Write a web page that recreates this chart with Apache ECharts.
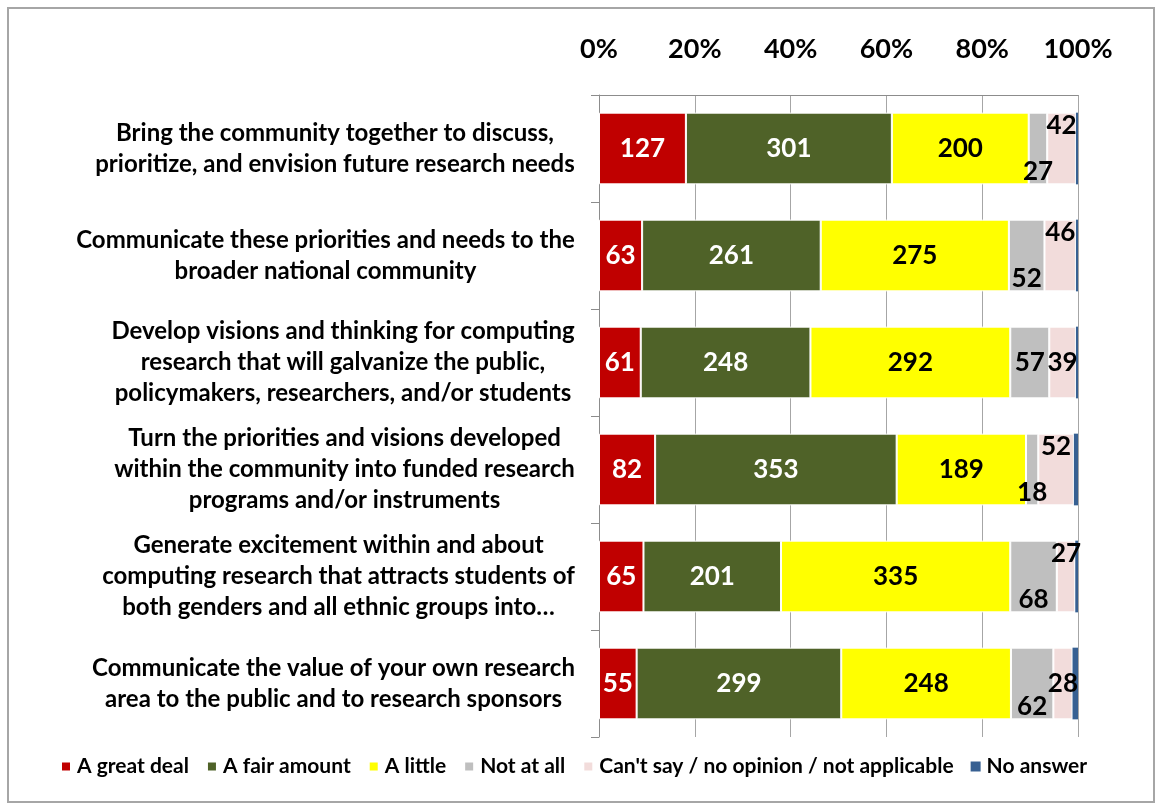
<!DOCTYPE html>
<html>
<head>
<meta charset="utf-8">
<script src="https://cdn.jsdelivr.net/npm/echarts@6/dist/echarts.min.js"></script>
<style>
  html, body { margin: 0; padding: 0; background: #fff; }
  #chart { width: 1158px; height: 806px; }
</style>
</head>
<body>
<div id="chart"></div>
<script>
  const categories = [
    'Bring the community together to discuss,\nprioritize, and envision future research needs',
    'Communicate these priorities and needs to the\nbroader national community',
    'Develop visions and thinking for computing\nresearch that will galvanize the public,\npolicymakers, researchers, and/or students',
    'Turn the priorities and visions developed\nwithin the community into funded research\nprograms and/or instruments',
    'Generate excitement within and about\ncomputing research that attracts students of\nboth genders and all ethnic groups into…',
    'Communicate the value of your own research\narea to the public and to research sponsors'
  ]
  const seriesNames = ['A great deal', 'A fair amount', 'A little', 'Not at all', "Can't say / no opinion / not applicable", 'No answer']
  const greatDeal = [127, 63, 61, 82, 65, 55]
  const fairAmount = [301, 261, 248, 353, 201, 299]
  const aLittle = [200, 275, 292, 189, 335, 248]
  const notAtAll = [27, 52, 57, 18, 68, 62]
  const cantSay = [42, 46, 39, 52, 27, 28]
  const noAnswer = [3, 3, 3, 6, 4, 8]

  const colors = ['#C00000', '#4F6228', '#FFFF00', '#BFBFBF', '#F2DCDB', '#376092']
  const labelColors = ['#fff', '#fff', '#000', '#000', '#000', '#000']
  // where the small labels sit in each bar (Excel moved them by hand)
  const grayPos = ['insideBottom', 'insideBottom', 'inside', 'insideBottom', 'insideBottom', 'insideBottom']
  const pinkPos = ['insideTop', 'insideTop', 'inside', 'insideTop', 'insideTop', 'inside']

  const allValues = [greatDeal, fairAmount, aLittle, notAtAll, cantSay, noAnswer]
  const totals = categories.map((c, i) => allValues.reduce((s, arr) => s + arr[i], 0))

  const font = 'Lato, "Open Sans", sans-serif'
  const catFontSize = 24

  // each label block: lines centred, block right-aligned to the axis
  const ctx = document.createElement('canvas').getContext('2d')
  ctx.font = 'bold ' + catFontSize + 'px ' + font
  const catRich = {}
  categories.forEach((c, i) => {
    const w = Math.max(...c.split('\n').map(l => ctx.measureText(l).width))
    catRich['r' + i] = {
      width: Math.ceil(w) + 2,
      align: 'center',
      color: '#000',
      fontFamily: font,
      fontWeight: 'bold',
      fontSize: catFontSize,
      lineHeight: 31
    }
  })

  const series = allValues.map((arr, si) => ({
    name: seriesNames[si],
    type: 'bar',
    stack: 'total',
    barCategoryGap: '33%',
    itemStyle: { color: colors[si], borderColor: '#fff', borderWidth: si === 5 ? 0 : 1 },
    data: arr.map((v, i) => {
      const item = { value: v / totals[i] * 100, raw: v }
      if (si === 3) item.label = { position: grayPos[i] }
      if (si === 4) item.label = { position: pinkPos[i] }
      return item
    }),
    label: {
      show: si < 5,
      position: 'inside',
      distance: 0,
      color: labelColors[si],
      fontFamily: font,
      fontWeight: 'bold',
      fontSize: 26,
      formatter: p => p.data.raw
    }
  }))

  const chart = echarts.init(document.getElementById('chart'))
  chart.setOption({
    animation: false,
    grid: { left: 599, right: 80, top: 95, bottom: 69 },
    xAxis: {
      type: 'value',
      position: 'top',
      min: 0,
      max: 100,
      interval: 20,
      axisLine: { show: true, lineStyle: { color: '#8c8c8c', width: 1 } },
      axisTick: { show: false },
      splitLine: { show: true, lineStyle: { color: '#a6a6a6', width: 1 } },
      axisLabel: {
        formatter: '{value}%',
        margin: 32,
        color: '#000',
        fontFamily: font,
        fontWeight: 'bold',
        fontSize: 27
      }
    },
    yAxis: {
      type: 'category',
      inverse: true,
      data: categories,
      axisLine: { show: true, lineStyle: { color: '#8c8c8c', width: 1 } },
      axisTick: { show: true, length: 8, lineStyle: { color: '#8c8c8c' } },
      axisLabel: {
        margin: 23,
        align: 'right',
        formatter: (v, idx) => v.split('\n').map(l => '{r' + idx + '|' + l + '}').join('\n'),
        rich: catRich
      }
    },
    legend: {
      data: seriesNames,
      left: 55,
      bottom: 24,
      itemWidth: 10,
      itemHeight: 10,
      itemGap: 17,
      icon: 'rect',
      textStyle: { color: '#000', fontFamily: font, fontWeight: 'bold', fontSize: 21, padding: [0, 0, 0, 1] }
    },
    graphic: [{
      type: 'rect',
      shape: { x: 8, y: 8, width: 1146, height: 794 },
      style: { fill: 'none', stroke: '#a6a6a6', lineWidth: 2 },
      silent: true
    }],
    series: series
  })
</script>
</body>
</html>
